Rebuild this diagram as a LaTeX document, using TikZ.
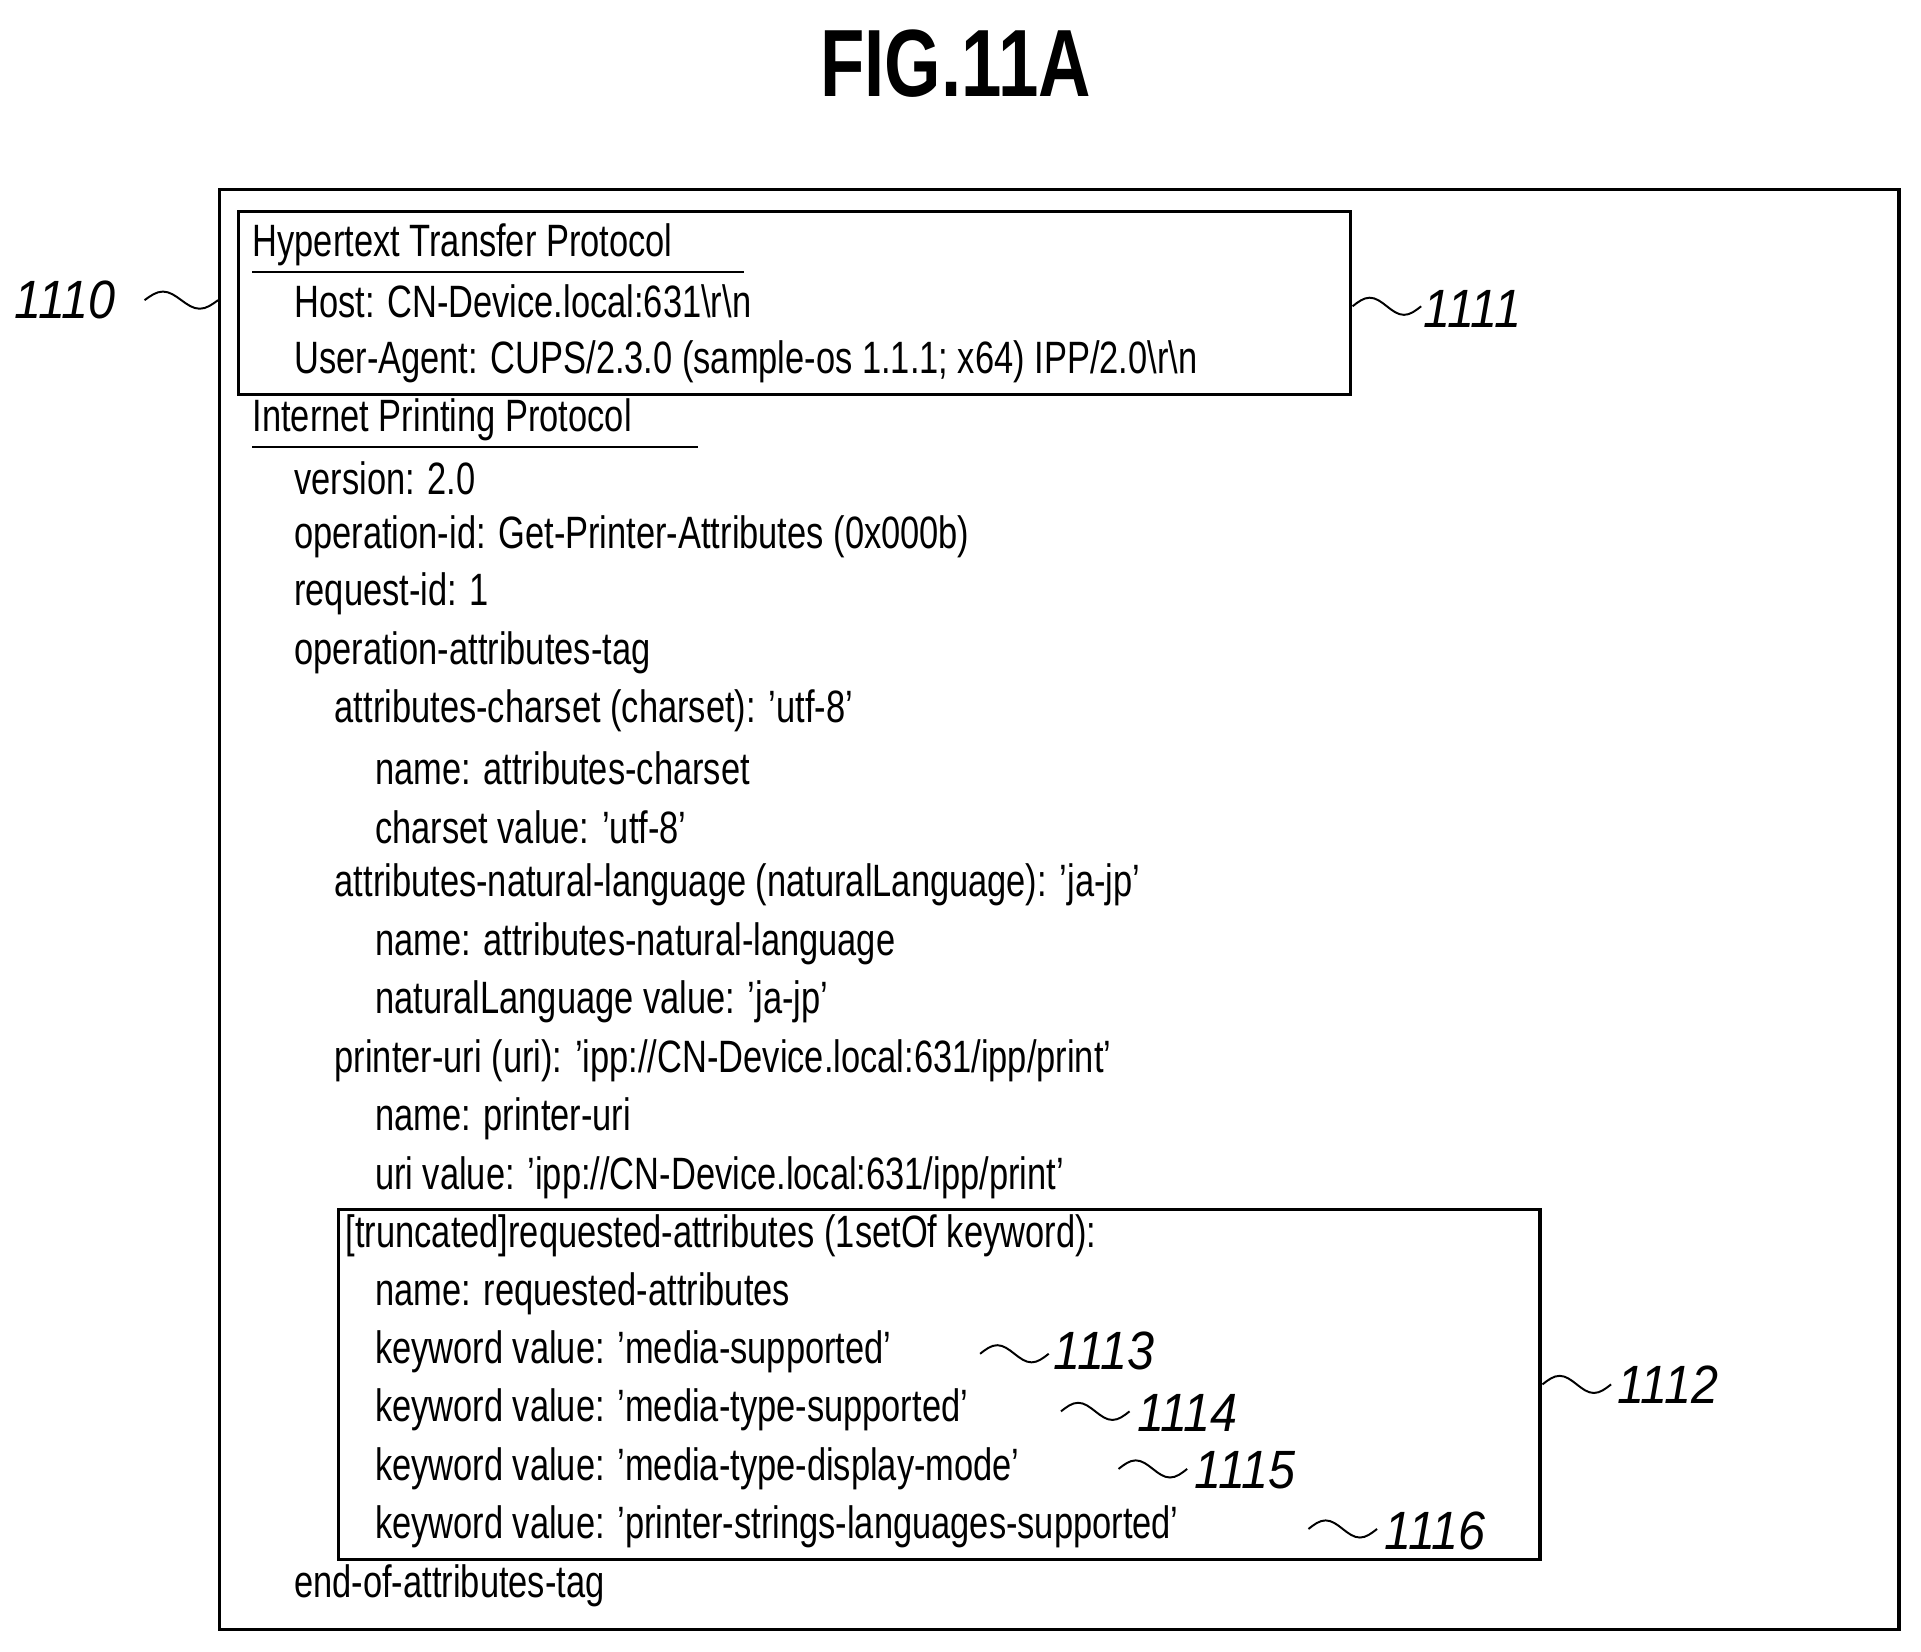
\documentclass[tikz,border=0pt]{standalone}
\usepackage{fontspec}
\setmainfont[FakeStretch=0.76]{Liberation Sans}
\newfontfamily\lblfont[FakeStretch=0.9]{Liberation Sans}
\begin{document}
\begin{tikzpicture}[x=1pt,y=-1pt,
  t/.style={anchor=west,inner sep=0pt,font=\fontsize{37}{40}\selectfont},
  lbl/.style={anchor=west,inner sep=0pt,font=\lblfont\itshape\fontsize{44}{46}\selectfont},
  box/.style={draw,line width=2.5pt},
  wave/.style={line width=1.6pt}]
\useasboundingbox (0,0) rectangle (1568,1348);
\node[font=\bfseries\fontsize{78}{80}\selectfont,inner sep=0pt] (title) at (780,52) {FIG.11A};
\draw[box] (179,155) rectangle (1550,1330);
\draw[box] (195,173) rectangle (1102,322);
\draw[box] (276,987) rectangle (1257,1273);
\node[t] (h1) at (206,200) {Hypertext Transfer Protocol};
\draw[line width=2pt] (206,222) -- (607,222);
\node[t] (h2) at (240,246) {Host: CN-Device.local:631\textbackslash r\textbackslash n};
\node[t] (h3) at (240,295) {User-Agent: CUPS/2.3.0 (sample-os 1.1.1; x64) IPP/2.0\textbackslash r\textbackslash n};
\node[t] (i0) at (206,343) {Internet Printing Protocol};
\draw[line width=2pt] (206,365) -- (570,365);
\node[t] (i1) at (240,390) {version: 2.0};
\node[t] (i2) at (240,438) {operation-id: Get-Printer-Attributes (0x000b)};
\node[t] (i3) at (240,485) {request-id: 1};
\node[t] (i4) at (240,533) {operation-attributes-tag};
\node[t] (i5) at (273,580) {attributes-charset (charset): 'utf-8'};
\node[t] (i6) at (306,627) {name: attributes-charset};
\node[t] (i7) at (306,675) {charset value: 'utf-8'};
\node[t] (i8) at (273,722) {attributes-natural-language (naturalLanguage): 'ja-jp'};
\node[t] (i9) at (306,770) {name: attributes-natural-language};
\node[t] (i10) at (306,818) {naturalLanguage value: 'ja-jp'};
\node[t] (i11) at (273,866) {printer-uri (uri): 'ipp://CN-Device.local:631/ipp/print'};
\node[t] (i12) at (306,913) {name: printer-uri};
\node[t] (i13) at (306,961) {uri value: 'ipp://CN-Device.local:631/ipp/print'};
\node[t] (i14) at (282,1009) {[truncated]requested-attributes (1setOf keyword):};
\node[t] (i15) at (306,1056) {name: requested-attributes};
\node[t] (k1) at (306,1103) {keyword value: 'media-supported'};
\node[t] (k2) at (306,1151) {keyword value: 'media-type-supported'};
\node[t] (k3) at (306,1199) {keyword value: 'media-type-display-mode'};
\node[t] (k4) at (306,1246) {keyword value: 'printer-strings-languages-supported'};
\node[t] (i16) at (240,1294) {end-of-attributes-tag};
% reference labels
\node[lbl] (L1110) at (12,245) {1110};
\draw[wave] (118,245) sin (133,238) cos (148,245) sin (163,252) cos (178,245);
\node[lbl] (L1111) at (1162,252) {1111};
\draw[wave] (1104,250) sin (1118,243) cos (1132,250) sin (1146,257) cos (1160,250);
\node[lbl] (L1112) at (1320,1130) {1112};
\draw[wave] (1259,1130) sin (1273,1123) cos (1287,1130) sin (1301,1137) cos (1315,1130);
\node[lbl] (L1113) at (860,1103) {1113};
\draw[wave] (800,1105) sin (814,1098) cos (828,1105) sin (842,1112) cos (856,1105);
\node[lbl] (L1114) at (928,1153) {1114};
\draw[wave] (866,1152) sin (880,1145) cos (894,1152) sin (908,1159) cos (922,1152);
\node[lbl] (L1115) at (975,1200) {1115};
\draw[wave] (913,1199) sin (927,1192) cos (941,1199) sin (955,1206) cos (969,1199);
\node[lbl] (L1116) at (1130,1250) {1116};
\draw[wave] (1068,1248) sin (1082,1241) cos (1096,1248) sin (1110,1255) cos (1124,1248);
\end{tikzpicture}
\end{document}
